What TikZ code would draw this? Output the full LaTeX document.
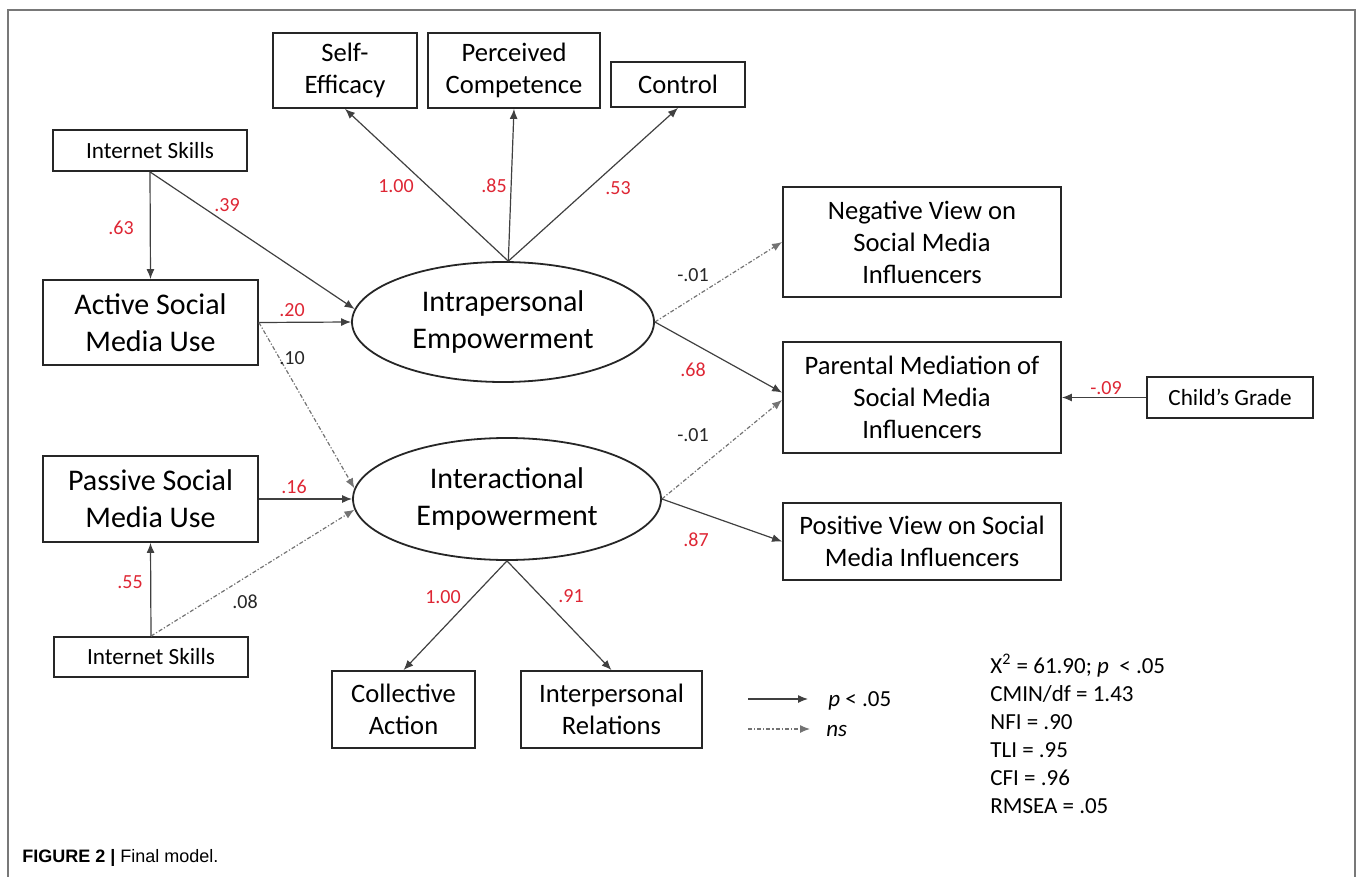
\documentclass[tikz,border=0pt]{standalone}
\usepackage{fontspec}
\setmainfont{Carlito}
\newfontfamily\capfont{Liberation Sans}
\usetikzlibrary{arrows.meta,shapes.geometric}

\definecolor{estred}{RGB}{222,38,52}
\definecolor{framegray}{RGB}{120,120,120}

\tikzset{
  box/.style={draw=black!85, line width=0.9pt, inner sep=0pt, align=center,
    font=\fontsize{13.3}{16}\selectfont},
  bigbox/.style={box, font=\fontsize{15}{18.5}\selectfont},
  smallbox/.style={box, font=\fontsize{11.6}{14}\selectfont},
  latent/.style={ellipse, draw=black!85, line width=0.9pt, inner sep=0pt,
    align=center, font=\fontsize{15}{18.5}\selectfont},
  sigline/.style={draw=black!75, line width=0.6pt, -{Latex[length=5pt,width=4pt]}},
  nsline/.style={draw=black!55, line width=0.6pt,
    dash pattern=on 2pt off 1pt on 0.6pt off 1pt, -{Latex[length=5pt,width=4pt]}},
  est/.style={text=estred, inner sep=0pt, font=\fontsize{10}{12}\selectfont},
  estns/.style={est, text=black!85},
}

\begin{document}
\begin{tikzpicture}[x=0.5pt,y=-0.5pt]
\useasboundingbox (0,0) rectangle (1360,877);

% Frame of the figure
\draw[framegray, line width=1pt] (8,10) rectangle (1355,900);

% Intrapersonal indicators
\node[box, minimum width=72pt, minimum height=37.5pt] (eff) at (345,70.5) {Self-\\Efficacy};
\node[box, minimum width=86pt, minimum height=37.5pt] (per) at (514,70.5) {Perceived\\Competence};
\node[box, minimum width=67pt, minimum height=22.5pt] (ctl) at (678,84.5) {Control};

% Predictors
\node[smallbox, minimum width=97pt, minimum height=20.5pt] (isk1) at (150,150.5) {Internet Skills};
\node[bigbox, minimum width=107.5pt, minimum height=42.5pt] (act) at (150.5,322.5) {Active Social\\Media Use};
\node[bigbox, minimum width=107.5pt, minimum height=43pt] (pas) at (150.5,499) {Passive Social\\Media Use};
\node[smallbox, minimum width=97pt, minimum height=20pt] (isk2) at (151,657) {Internet Skills};

% Latent factors
\node[latent, minimum width=151pt, minimum height=60pt] (intra) at (503,322) {Intrapersonal\\Empowerment};
\node[latent, minimum width=154pt, minimum height=61pt] (inter) at (507,499) {Interactional\\Empowerment};

% Interactional indicators
\node[box, minimum width=71.5pt, minimum height=38.5pt] (col) at (403.5,709.5) {Collective\\Action};
\node[box, minimum width=90.5pt, minimum height=38.5pt] (ipr) at (611.5,709.5) {Interpersonal\\Relations};

% Outcomes
\node[box, minimum width=139pt, minimum height=55pt] (neg) at (922,242) {Negative View on\\Social Media\\Influencers};
\node[box, minimum width=139pt, minimum height=55.5pt] (par) at (922,397.5) {Parental Mediation of\\Social Media\\Influencers};
\node[box, minimum width=139pt, minimum height=38.5pt] (pos) at (922,541.5) {Positive View on Social\\Media Influencers};
\node[smallbox, minimum width=83pt, minimum height=20.5pt] (child) at (1230,397.5) {Child’s Grade};

% Paths into the factors
\draw[sigline] (isk1.south) -- (act.north);
\draw[sigline] (isk1.south) -- (intra.175);
\draw[sigline] (act.east) -- (intra.west);
\draw[nsline] (act.east) -- (inter.176);
\draw[sigline] (pas.east) -- (inter.west);
\draw[sigline] (isk2.north) -- (pas.south);
\draw[nsline] (isk2.north) -- (inter.184);

% Loadings
\draw[sigline] (intra.85) -- (eff.south);
\draw[sigline] (intra.85) -- (per.south);
\draw[sigline] (intra.85) -- (ctl.south);
\draw[sigline] (inter.south) -- (col.north);
\draw[sigline] (inter.south) -- (ipr.north);

% Paths to the outcomes
\draw[nsline] (intra.east) -- (neg.west);
\draw[sigline] (intra.east) -- (par.178.5);
\draw[nsline] (inter.east) -- (par.181.5);
\draw[sigline] (inter.east) -- (pos.west);
\draw[sigline] (child.west) -- (par.east);

% Estimates
\node[est] (e63) at (121,228) {.63};
\node[est] (e39) at (227,205) {.39};
\node[est] (e20) at (292,310) {.20};
\node[estns] (e10) at (292,358) {.10};
\node[est] (e16) at (294,487) {.16};
\node[est] (e55) at (130,582) {.55};
\node[estns] (e08) at (245,602) {.08};
\node[est] (eeff) at (396,186) {1.00};
\node[est] (eper) at (494,186) {.85};
\node[est] (ectl) at (618,188) {.53};
\node[estns] (eneg) at (693,275) {-.01};
\node[est] (epar1) at (693,370) {.68};
\node[estns] (epar2) at (693,435) {-.01};
\node[est] (epos) at (696,540) {.87};
\node[est] (echild) at (1106,388) {-.09};
\node[est] (ecol) at (443,597) {1.00};
\node[est] (eipr) at (571,596) {.91};

% Legend
\coordinate (lgs1) at (748,699);
\coordinate (lgs2) at (808,699);
\coordinate (lgn1) at (748,729);
\coordinate (lgn2) at (810,729);
\draw[sigline] (lgs1) -- (lgs2);
\draw[nsline] (lgn1) -- (lgn2);
\node[anchor=west, inner sep=0pt, font=\fontsize{11.5}{14}\selectfont] (lgp) at (828,701) {\textit{p} < .05};
\node[anchor=west, inner sep=0pt, font=\fontsize{11.5}{14}\selectfont] (lgns) at (826,731) {\textit{ns}};

% Fit indices
\node[anchor=north west, inner sep=0pt, align=left, font=\fontsize{11.5}{14}\selectfont] (fit) at (990,654)
  {X\textsuperscript{2} = 61.90; \textit{p}\ \ < .05\\CMIN/df = 1.43\\NFI = .90\\TLI = .95\\CFI = .96\\RMSEA = .05};

% Caption
\node[anchor=west, inner sep=0pt, font=\capfont\fontsize{9}{11}\selectfont] (cap) at (22,858)
  {\textbf{FIGURE 2 |} Final model.};
\end{tikzpicture}
\end{document}
